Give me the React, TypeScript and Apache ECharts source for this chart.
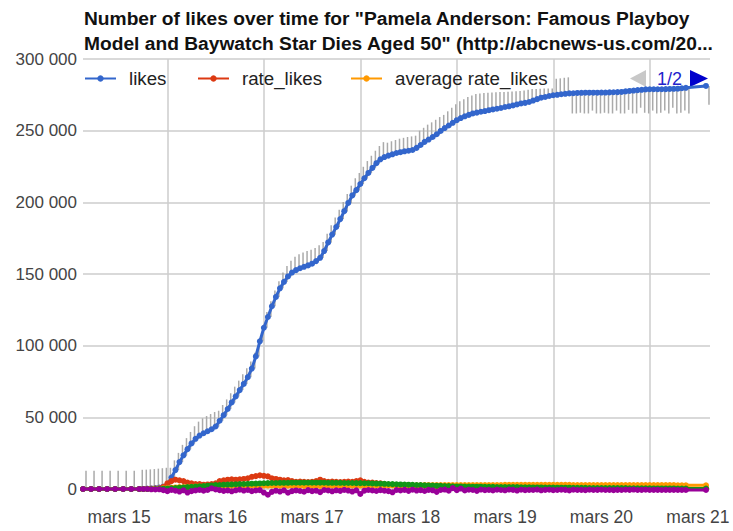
import React, { useEffect, useRef } from "react";
import * as echarts from "echarts";

// x positions: hours after mars 15 00:00
const EARLY_HOURS = [-9, -7, -5, -3, -1, 1, 3];
const HOURLY_FROM = 5;
const HOURLY_TO = 141;
const LAST_HOUR = 146;

const LABEL_HOURS = [0, 24, 48, 72, 96, 120, 144];
const X_LABELS = ["mars 15", "mars 16", "mars 17", "mars 18", "mars 19", "mars 20", "mars 21"];
const GRID_HOURS = [12, 36, 60, 84, 108, 132];

const LIKES = [
  0, 0, 0, 0, 0, 0, 0,
  0, 0, 200, 400, 700, 1000, 1600, 2800, 8000, 13200,
  18800, 23500, 27800, 31800, 35000, 37300, 38900, 40300, 41700, 43600,
  47600, 51500, 55800, 60400, 64600, 69000, 73300, 78000, 84000, 92500,
  103000, 112500, 120000, 127500, 134000, 140000, 144500, 148300, 151000, 152700,
  154000, 155000, 156000, 157200, 159000, 161300, 166000, 172000, 177500, 182800,
  188300, 193800, 199600, 204800, 208500, 212800, 216800, 220500, 224000, 227300,
  230000, 231600, 232600, 233500, 234400, 235000, 235600, 236000, 236500, 238000,
  240000, 242200, 243800, 245600, 247500, 249800, 251800, 253600, 255500, 257300,
  258800, 260000, 261000, 262000, 262600, 263200, 263700, 264300, 264800, 265300,
  265800, 266500, 267000, 267600, 268300, 269000, 269400, 270000, 271000, 272000,
  273000, 273500, 274200, 274700, 275000, 275400, 275700, 276000, 276100, 276300,
  276400, 276500, 276500, 276500, 276500, 276600, 276600, 276700, 276800, 276900,
  277000, 277400, 277700, 278000, 278300, 278500, 278800, 278900, 278900, 278900,
  278900, 279000, 279100, 279200, 279300, 279600, 279900,
  281200,
];

const STICK_LOW = [
  0, 0, 0, 0, 0, 0, 0,
  0, 0, 200, 400, 700, 1000, 1600, 2800, 8000, 13200,
  18800, 23500, 27800, 31800, 35000, 37300, 38900, 40300, 41700, 43600,
  47600, 51500, 55800, 60400, 64600, 69000, 73300, 78000, 84000, 92500,
  103000, 112500, 120000, 127500, 134000, 140000, 144500, 148300, 151000, 152700,
  154000, 155000, 156000, 157200, 159000, 161300, 166000, 172000, 177500, 182800,
  188300, 193800, 199600, 204800, 208500, 212800, 216800, 220500, 224000, 227300,
  230000, 231600, 232600, 233500, 234400, 235000, 235600, 236000, 236500, 238000,
  240000, 242200, 243800, 245600, 247500, 249800, 251800, 253600, 255500, 257300,
  258800, 260000, 261000, 262000, 262600, 263200, 263700, 264300, 264800, 265300,
  265800, 266500, 267000, 267600, 268300, 269000, 269400, 270000, 271000, 272000,
  273000, 273500, 274200, 274700, 275000, 275400, 275700, 262000, 262000, 262500,
  262000, 262000, 264000, 262000, 262000, 262500, 262000, 262000, 264000, 262000,
  262000, 264500, 262000, 262000, 266000, 262500, 262000, 264000, 262000, 262500,
  264000, 262000, 266000, 262000, 262500, 264000, 262000,
  268000,
];

const STICK_HIGH = [
  12800, 12800, 12800, 12800, 12800, 12800, 12800,
  13400, 13500, 13700, 13900, 14200, 14500, 14800, 14800, 20000, 25200,
  30800, 35500, 39800, 43800, 47000, 49300, 50900, 52300, 53700, 54600,
  58600, 62500, 66800, 71400, 75600, 80000, 84300, 89000, 95000, 103500,
  114000, 123500, 131000, 138500, 145000, 151000, 155500, 159300, 162000, 163700,
  165000, 166000, 167000, 168200, 170000, 172300, 178000, 184000, 189500, 194800,
  200300, 205800, 211600, 216800, 220500, 224800, 228800, 232500, 236000, 239300,
  242000, 241600, 242600, 243500, 244400, 245000, 245600, 246000, 246500, 250000,
  252000, 254200, 255800, 257600, 259500, 261000, 263500, 266000, 268500, 270500,
  272000, 273500, 274500, 275500, 276000, 276300, 276500, 276700, 276800, 277000,
  277000, 277200, 277300, 277500, 277700, 278000, 278500, 279000, 279000, 279200,
  279500, 279500, 279500, 286200, 286500, 286900, 287200, 276000, 276100, 276300,
  276400, 276500, 276500, 276500, 276500, 276600, 276600, 276700, 276800, 276900,
  277000, 277400, 277700, 278000, 278300, 278500, 278800, 278900, 278900, 278900,
  278900, 279000, 279100, 279200, 279300, 279600, 279900,
  281200,
];

const RATE_LIKES = [
  0, 0, 0, 0, 0, 0, 0,
  0, 0, 100, 200, 300, 500, 1500, 4000, 5500, 6500,
  6000, 5500, 4500, 4000, 3500, 3500, 3000, 3200, 3500, 4000,
  5500, 6000, 6500, 6800, 6500, 6800, 7000, 7500, 8500, 9000,
  9500, 9200, 8800, 7500, 7000, 6500, 6000, 6200, 5500, 5000,
  5200, 5000, 4800, 5000, 5500, 6500, 5500, 5000, 5200, 5000,
  4800, 5000, 5200, 5000, 5500, 6000, 5000, 4500, 4500, 4200,
  4000, 3500, 3000, 2800, 2600, 2500, 2400, 2600, 2200, 2000,
  2200, 2400, 2000, 1800, 2000, 2200, 1800, 1600, 1800, 1500,
  1400, 1600, 1300, 1200, 1500, 1300, 1100, 1200, 1000, 1100,
  1000, 1200, 900, 1000, 1100, 900, 1000, 1200, 1400, 1300,
  1200, 1000, 900, 800, 700, 600, 500, 400, 400, 300,
  300, 200, 200, 200, 200, 200, 200, 300, 300, 400,
  500, 600, 500, 400, 500, 400, 300, 200, 200, 200,
  200, 200, 300, 300, 400, 500, 500,
  400,
];

const AVERAGE_RATE_LIKES = [
  0, 0, 0, 0, 0, 0, 0,
  0, 0, 0, 100, 200, 300, 500, 700, 900, 1100,
  1300, 1400, 1500, 1600, 1700, 1800, 1900, 2000, 2000, 2100,
  2100, 2200, 2200, 2200, 2300, 2300, 2300, 2300, 2300, 2400,
  2400, 2400, 2400, 2400, 2300, 2300, 2300, 2300, 2300, 2300,
  2300, 2200, 2200, 2200, 2200, 2200, 2200, 2300, 2300, 2300,
  2300, 2300, 2300, 2400, 2400, 2400, 2400, 2400, 2400, 2400,
  2500, 2500, 2500, 2500, 2500, 2500, 2600, 2600, 2600, 2600,
  2600, 2700, 2700, 2700, 2700, 2800, 2800, 2800, 2800, 2800,
  2800, 2800, 2800, 2800, 2800, 2800, 2800, 2800, 2800, 2800,
  2800, 2900, 2900, 2900, 2900, 2900, 2900, 2900, 2900, 2900,
  2900, 2900, 2900, 2900, 2900, 2900, 2900, 2900, 2800, 2800,
  2800, 2800, 2800, 2800, 2800, 2800, 2800, 2800, 2800, 2800,
  2800, 2800, 2700, 2700, 2700, 2700, 2700, 2700, 2700, 2700,
  2700, 2700, 2700, 2700, 2600, 2600, 2600,
  2600,
];

const GREEN_SERIES = [
  0, 0, 0, 0, 0, 0, 0,
  0, 0, 0, 0, 0, 100, 200, 300, 500, 700,
  900, 1100, 1300, 1500, 1700, 1900, 2100, 2300, 2500, 2700,
  2800, 3000, 3100, 3200, 3300, 3400, 3500, 3600, 3700, 3800,
  3900, 4000, 4100, 4200, 4200, 4300, 4300, 4300, 4400, 4400,
  4400, 4400, 4400, 4400, 4400, 4400, 4400, 4300, 4300, 4300,
  4300, 4200, 4200, 4200, 4100, 4100, 4000, 4000, 3900, 3800,
  3700, 3600, 3500, 3400, 3300, 3200, 3100, 3000, 2900, 2800,
  2700, 2600, 2500, 2400, 2300, 2200, 2100, 2000, 1900, 1800,
  1800, 1700, 1700, 1600, 1600, 1600, 1500, 1500, 1500, 1400,
  1400, 1400, 1300, 1300, 1300, 1200, 1200, 1200, 1100, 1100,
  1100, 1000, 1000, 1000, 900, 900, 900, 900, 800, 800,
  800, 800, 700, 700, 700, 700, 700, 600, 600, 600,
  600, 600, 500, 500, 500, 500, 500, 500, 400, 400,
  400, 400, 400, 400, 300, 300, 300,
  300,
];

const PURPLE_SERIES = [
  0, 0, 0, 0, 0, 0, 0,
  0, 0, 0, -200, -300, -200, -800, -1500, -600, -1200,
  -1800, -900, -2500, -1500, -1000, -600, -1200, -700, 500, -300,
  -800, -1300, -1000, -1600, -900, -500, -1100, -700, -1500, -1000,
  -800, -2500, -4000, -2000, -1200, -1800, -900, -2600, -1500, -1000,
  -1400, -1900, -800, -1500, -1200, -2200, -700, -1000, -1600, -900,
  -1300, -600, -1100, -1800, -900, -3500, -1200, -700, -1000, -1400,
  -800, -1200, -1500, -2300, -700, -1000, -600, -1300, -500, -1100,
  -800, -1400, -600, -900, -2000, -700, -400, -1200, 600, -800,
  300, -1000, -500, -700, -1300, -400, -800, -600, -1000, -500,
  -700, -900, -400, -600, -1100, -500, -800, -600, -700, -400,
  -900, -600, -500, -800, -700, -500, -600, -1000, -500, -700,
  -600, -800, -500, -700, -600, -500, -700, -600, -800, -600,
  -700, -500, -600, -400, -700, -600, -500, -700, -600, -600,
  -700, -600, -700, -600, -700, -700, -700,
  -700,
];

const FONT = "'Liberation Sans', Arial, sans-serif";

function buildHours(): number[] {
  const hours = [...EARLY_HOURS];
  for (let h = HOURLY_FROM; h <= HOURLY_TO; h++) hours.push(h);
  hours.push(LAST_HOUR);
  return hours;
}

function fmtThousands(v: number): string {
  return String(v).replace(/\B(?=(\d{3})+(?!\d))/g, " ");
}

export default function App() {
  const ref = useRef<HTMLDivElement>(null);

  useEffect(() => {
    if (!ref.current) return;
    const chart = echarts.init(ref.current, undefined, { renderer: "svg" });
    const hours = buildHours();
    const pair = (vals: number[]) => hours.map((h, i) => [h, vals[i]]);
    const sticks = hours.map((h, i) => [h, STICK_LOW[i], STICK_HIGH[i]]);

    const lineSeries = (name: string, vals: number[], color: string, z: number) => ({
      name,
      type: "line",
      data: pair(vals),
      symbol: "circle",
      symbolSize: 6,
      showSymbol: true,
      clip: false,
      color,
      lineStyle: { width: 3, color },
      itemStyle: { color },
      z,
      silent: true,
    });

    const legendText = {
      fontSize: 18.7,
      color: "#222",
      fontFamily: FONT,
      padding: [0, 0, 0, 8],
    };
    const legendBase = { top: 69, itemWidth: 31, itemHeight: 8, padding: 0, textStyle: legendText };

    chart.setOption({
      animation: false,
      backgroundColor: "#fff",
      title: {
        text:
          'Number of likes over time for "Pamela Anderson: Famous Playboy\nModel and Baywatch Star Dies Aged 50" (http://abcnews-us.com/20...',
        left: 84,
        top: 6,
        padding: 0,
        textStyle: {
          fontSize: 19.2,
          fontWeight: "bold",
          color: "#111",
          fontFamily: FONT,
          lineHeight: 25,
        },
      },
      legend: [
        { ...legendBase, data: ["likes"], left: 84 },
        { ...legendBase, data: ["rate_likes"], left: 197 },
        { ...legendBase, data: ["average rate_likes"], left: 350 },
      ],
      grid: { left: 83, right: 23, top: 59, bottom: 42 },
      xAxis: {
        type: "value",
        min: -9,
        max: 147,
        axisLine: { show: false },
        axisTick: { show: false, customValues: GRID_HOURS },
        splitLine: { show: true, lineStyle: { color: "#ccc", width: 1.5 } },
        axisLabel: {
          customValues: LABEL_HOURS,
          formatter: (v: number) => X_LABELS[LABEL_HOURS.indexOf(v)] ?? "",
          fontSize: 17.5,
          color: "#444",
          fontFamily: FONT,
          margin: 19,
        },
      },
      yAxis: {
        type: "value",
        min: 0,
        max: 300000,
        interval: 50000,
        axisLine: { show: false },
        axisTick: { show: false },
        splitLine: { lineStyle: { color: "#ccc", width: 1.5 } },
        axisLabel: {
          formatter: (v: number) => fmtThousands(v),
          fontSize: 17,
          color: "#444",
          fontFamily: FONT,
          margin: 6,
        },
      },
      graphic: [
        { type: "polygon", shape: { points: [[646, 70], [646, 87], [630, 78.5]] }, style: { fill: "#c8c8c8" } },
        { type: "text", x: 657, y: 78.5, style: { text: "1/2", fontSize: 18, fill: "#2222cc", fontFamily: FONT, verticalAlign: "middle" } },
        { type: "polygon", shape: { points: [[690, 70], [690, 87], [708, 78.5]] }, style: { fill: "#0000cc" } },
      ],
      series: [
        {
          name: "interval",
          type: "custom",
          data: sticks,
          encode: { x: 0, y: [1, 2] },
          z: 1,
          silent: true,
          renderItem: (_p: any, api: any) => {
            const h = api.value(0);
            const a = api.coord([h, api.value(1)]);
            const b = api.coord([h, api.value(2)]);
            return {
              type: "line",
              shape: { x1: a[0] + 3, y1: a[1], x2: b[0] + 3, y2: b[1] },
              style: { stroke: "#aaa", lineWidth: 1.5 },
            };
          },
        },
        lineSeries("likes", LIKES, "#3366cc", 3),
        lineSeries("rate_likes", RATE_LIKES, "#dc3912", 4),
        lineSeries("average rate_likes", AVERAGE_RATE_LIKES, "#ff9900", 5),
        lineSeries("smoothed rate_likes", GREEN_SERIES, "#109618", 6),
        lineSeries("acceleration_likes", PURPLE_SERIES, "#990099", 7),
      ],
    });
    return () => chart.dispose();
  }, []);

  return <div ref={ref} style={{ width: 733, height: 531, position: "absolute", left: 0, top: 0 }} />;
}
